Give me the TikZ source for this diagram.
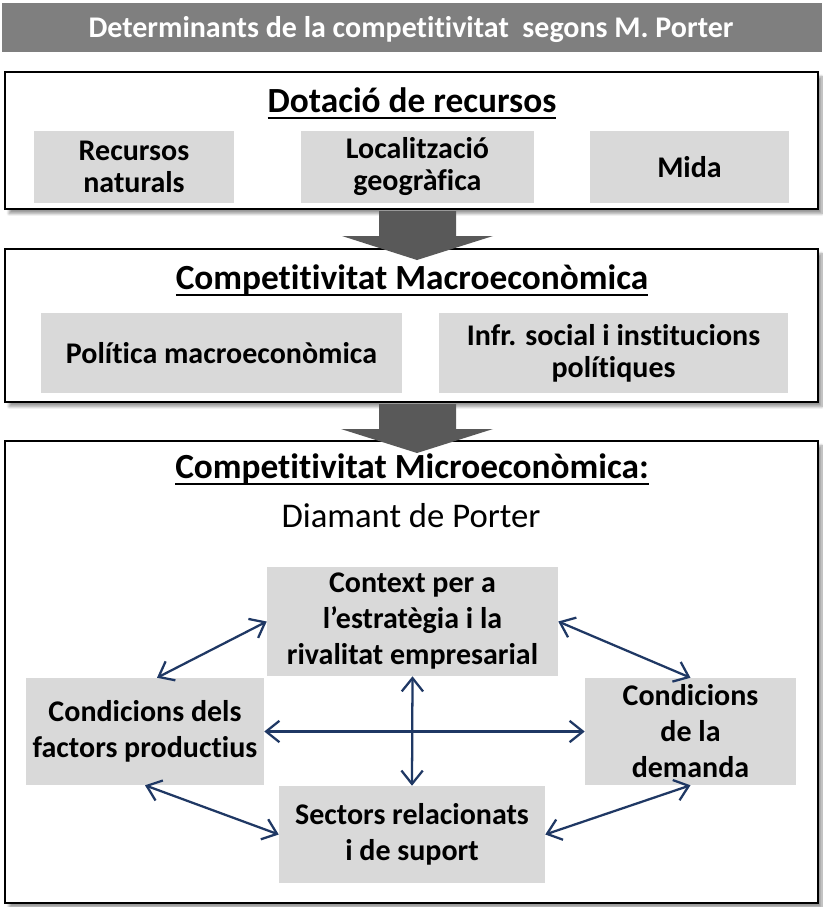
\documentclass[tikz,border=0pt]{standalone}
\usepackage{fontspec}
\setmainfont{Carlito}[Ligatures={TeX,NoCommon,NoContextual},Contextuals=NoAlternate]
\usetikzlibrary{arrows.meta,shadows.blur}
\definecolor{gris}{HTML}{D9D9D9}
\definecolor{grisfosc}{HTML}{595959}
\definecolor{grisbarra}{HTML}{7F7F7F}
\definecolor{blaufosc}{HTML}{1F3864}
\newcommand{\titol}[1]{\fontsize{26.5}{30}\selectfont\bfseries\setbox0\hbox{#1}\rlap{\rule[-5pt]{\wd0}{1.4pt}}\box0}
\begin{document}
\begin{tikzpicture}[x=0.75pt,y=-0.75pt,
	marc/.style={draw=black, line width=1.5pt, fill=white, blur shadow={shadow xshift=3pt, shadow yshift=-3.5pt, shadow blur steps=8}},
	caixa/.style={fill=gris, align=center, inner sep=0pt, font=\fontsize{22.5}{24}\selectfont\bfseries},
	rombe/.style={caixa, font=\fontsize{22.5}{27}\selectfont\bfseries},
	fletxa/.style={fill=grisfosc},
	doble/.style={draw=blaufosc, line width=1.7pt, {Straight Barb[length=10pt,width=16pt]}-{Straight Barb[length=10pt,width=16pt]}}]
	\useasboundingbox (0,0) rectangle (822,907);
	\fill[grisbarra] (2,3) rectangle (822,52);
	\node[text=white, font=\fontsize{22.5}{27}\selectfont\bfseries, anchor=base] (capcal) at (411,37) {Determinants de la competitivitat \ segons M. Porter};
	\path[marc] (5,72) rectangle (818,209);
	\path[marc] (5,249) rectangle (818,402);
	\path[marc] (5,441) rectangle (818,903);
	\node[anchor=base] (dotacio) at (412,112) {\titol{Dotació de recursos}};
	\node[caixa, minimum width=150pt, minimum height=54pt] (naturals) at (134,167) {Recursos\\naturals};
	\node[caixa, minimum width=174.75pt, minimum height=54pt] (localitzacio) at (417.5,167) {Localització\\geogràfica};
	\node[caixa, minimum width=149.25pt, minimum height=54pt] (mida) at (689.5,167) {Mida};
	\node[anchor=base] (macro) at (412,289) {\titol{Competitivitat Macroeconòmica}};
	\node[caixa, minimum width=270.75pt, minimum height=60pt] (politica) at (221.5,353) {Política macroeconòmica};
	\node[caixa, minimum width=261.75pt, minimum height=60pt] (infra) at (613.5,353) {Infr. social i institucions\\polítiques};
	\node[anchor=base] (micro) at (412,478) {\titol{Competitivitat Microeconòmica:}};
	\node[anchor=base, font=\fontsize{26}{30}\selectfont] (diamant) at (411,527) {Diamant de Porter};
	\fill[fletxa] (379,211) -- (456,211) -- (456,236) -- (493,236) -- (417,260) -- (342,236) -- (379,236) -- cycle;
	\fill[fletxa] (379,404) -- (456,404) -- (456,429) -- (493,429) -- (417,453) -- (341,429) -- (379,429) -- cycle;
	\node[rombe, minimum width=218.25pt, minimum height=81.75pt] (context) at (412.5,621.5) {Context per a\\l’estratègia i la\\rivalitat empresarial};
	\node[rombe, minimum width=178.5pt, minimum height=80.25pt] (factors) at (145,731.5) {Condicions dels\\factors productius};
	\node[rombe, minimum width=158.25pt, minimum height=80.25pt] (demanda) at (690.5,731.5) {Condicions\\de la\\demanda};
	\node[rombe, minimum width=199.5pt, minimum height=72.75pt] (sectors) at (412,834.5) {Sectors relacionats\\i de suport};
	\draw[doble] ([xshift=9pt]factors.north) -- (context.west);
	\draw[doble] (context.east) -- (demanda.north);
	\draw[doble] (factors.south) -- (sectors.west);
	\draw[doble] (demanda.south) -- (sectors.east);
	\draw[doble] (factors.east) -- (demanda.west);
	\draw[doble] (context.south) -- (sectors.north);
\end{tikzpicture}
\end{document}
